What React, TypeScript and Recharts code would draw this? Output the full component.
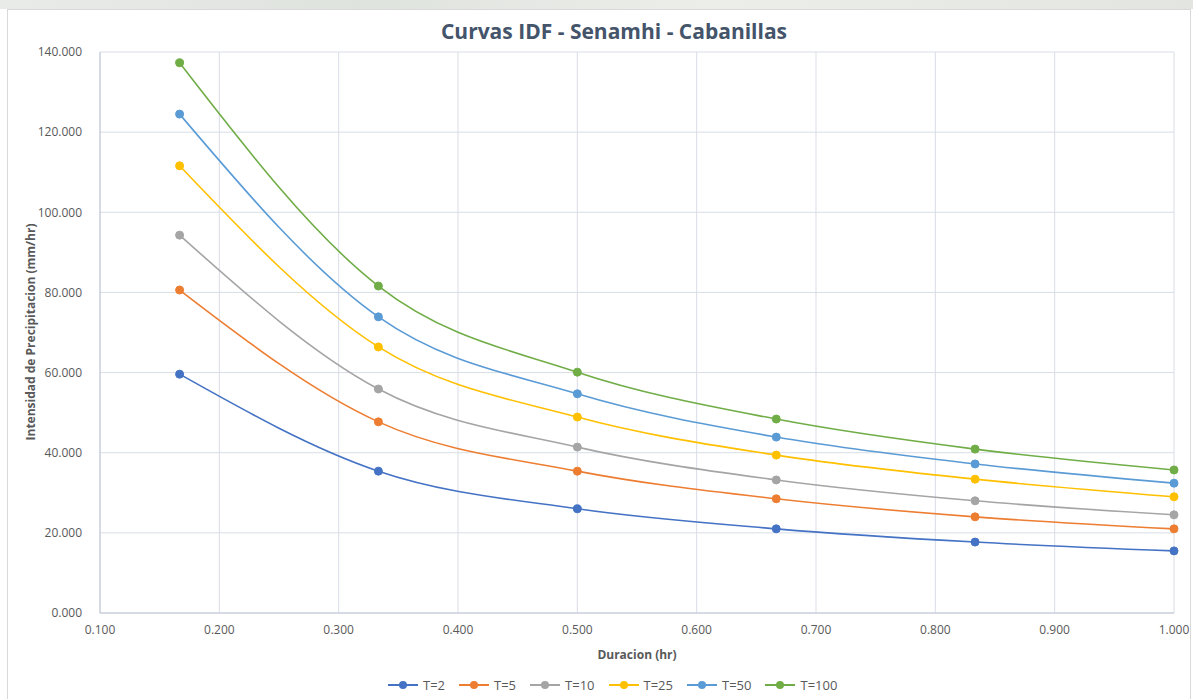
import { LineChart, Line, XAxis, YAxis, CartesianGrid } from 'recharts';

const durations = [0.1667, 0.3333, 0.5, 0.6667, 0.8333, 1.0];
const t2 = [59.6, 35.4, 26.0, 21.0, 17.7, 15.5];
const t5 = [80.6, 47.7, 35.4, 28.5, 24.0, 21.0];
const t10 = [94.3, 55.9, 41.4, 33.2, 28.0, 24.5];
const t25 = [111.6, 66.4, 48.9, 39.4, 33.4, 29.0];
const t50 = [124.5, 73.9, 54.7, 43.9, 37.2, 32.4];
const t100 = [137.3, 81.6, 60.1, 48.4, 40.9, 35.7];

const xTicks = [0.1, 0.2, 0.3, 0.4, 0.5, 0.6, 0.7, 0.8, 0.9, 1.0];
const yTicks = [0, 20, 40, 60, 80, 100, 120, 140];

const series = [
  { key: 't2', name: 'T=2', values: t2, color: '#4472c4' },
  { key: 't5', name: 'T=5', values: t5, color: '#ed7d31' },
  { key: 't10', name: 'T=10', values: t10, color: '#a5a5a5' },
  { key: 't25', name: 'T=25', values: t25, color: '#ffc000' },
  { key: 't50', name: 'T=50', values: t50, color: '#5b9bd5' },
  { key: 't100', name: 'T=100', values: t100, color: '#70ad47' },
];

const data = durations.map((d, i) => {
  const row: { [k: string]: number } = { d };
  series.forEach((s) => (row[s.key] = s.values[i]));
  return row;
});

const font = '"Open Sans", "Noto Sans", sans-serif';
const tickStyle = { fontSize: 12, fill: '#595959', fontFamily: font };

export default function App() {
  return (
    <div
      style={{
        position: 'fixed',
        left: 0,
        top: 0,
        width: 1193,
        height: 699,
        background: '#fff',
        overflow: 'hidden',
        fontFamily: font,
      }}
    >
      {/* faded strip from the page behind the chart */}
      <div
        style={{
          position: 'absolute',
          left: 0,
          top: 0,
          width: 1193,
          height: 9,
          background: 'linear-gradient(90deg, #e9ebe8, #dfe3de 30%, #eceeea 60%, #e2e5e0)',
        }}
      />
      <div
        style={{
          position: 'absolute',
          left: 7,
          top: 9,
          width: 1182,
          height: 700,
          border: '1px solid #d9d9d9',
          background: '#fff',
        }}
      />
      <div
        style={{
          position: 'absolute',
          left: 0,
          top: 17,
          width: 1228,
          textAlign: 'center',
          fontSize: 21,
          fontWeight: 700,
          color: '#44546a',
        }}
      >
        Curvas IDF - Senamhi - Cabanillas
      </div>
      <div style={{ position: 'absolute', left: 0, top: 0 }}>
        <LineChart
          width={1193}
          height={699}
          data={data}
          margin={{ top: 52, right: 19, bottom: 0, left: 0 }}
          style={{ overflow: 'visible' }}
        >
          <CartesianGrid stroke="#d9dde6" strokeWidth={1} />
          <XAxis
            dataKey="d"
            type="number"
            domain={[0.1, 1.0]}
            ticks={xTicks}
            tickFormatter={(v: number) => v.toFixed(3)}
            height={86}
            tick={tickStyle}
            tickLine={false}
            axisLine={{ stroke: '#bfc6d4' }}
            tickMargin={6}
            interval={0}
          />
          <YAxis
            type="number"
            domain={[0, 140]}
            ticks={yTicks}
            tickFormatter={(v: number) => v.toFixed(3)}
            width={100}
            tick={tickStyle}
            tickLine={false}
            axisLine={{ stroke: '#bfc6d4' }}
            tickMargin={12}
            interval={0}
          />
          {series.map((s) => (
            <Line
              key={s.key}
              dataKey={s.key}
              name={s.name}
              type="monotone"
              stroke={s.color}
              strokeWidth={1.6}
              dot={{ r: 4, fill: s.color, stroke: s.color, strokeWidth: 1 }}
              isAnimationActive={false}
            />
          ))}
        </LineChart>
      </div>
      <div
        style={{
          position: 'absolute',
          left: 30,
          top: 332,
          transform: 'translate(-50%, -50%) rotate(-90deg)',
          whiteSpace: 'nowrap',
          fontSize: 12,
          fontWeight: 700,
          color: '#595959',
        }}
      >
        Intensidad de Precipitacion (mm/hr)
      </div>
      <div
        style={{
          position: 'absolute',
          left: 637,
          top: 654,
          transform: 'translate(-50%, -50%)',
          whiteSpace: 'nowrap',
          fontSize: 12,
          fontWeight: 700,
          color: '#595959',
        }}
      >
        Duracion (hr)
      </div>
      <div
        style={{
          position: 'absolute',
          left: 388,
          top: 676,
          display: 'flex',
          alignItems: 'center',
          gap: 14,
          fontSize: 13,
          color: '#595959',
        }}
      >
        {series.map((s) => (
          <div key={s.key} style={{ display: 'flex', alignItems: 'center', gap: 5 }}>
            <svg width={30} height={12}>
              <line x1={0} y1={6} x2={30} y2={6} stroke={s.color} strokeWidth={2} />
              <circle cx={15} cy={6} r={4} fill={s.color} />
            </svg>
            <span>{s.name}</span>
          </div>
        ))}
      </div>
    </div>
  );
}
